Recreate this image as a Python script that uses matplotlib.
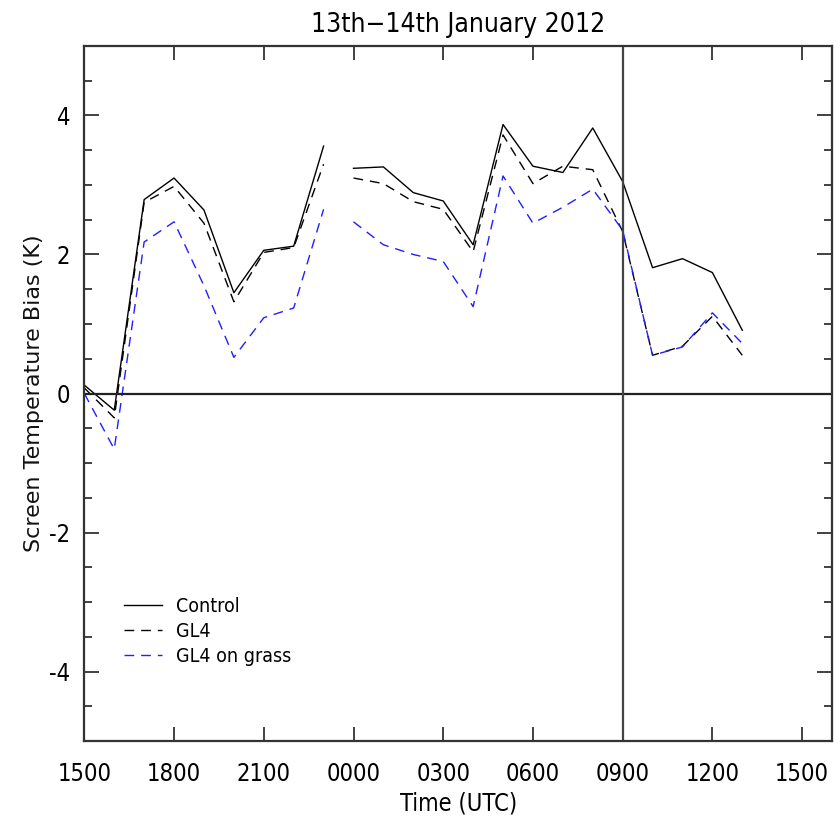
"""Screen temperature bias, 13th-14th January 2012."""
import numpy as np
import matplotlib
matplotlib.use('Agg')
import matplotlib.pyplot as plt
from matplotlib.ticker import MultipleLocator, FuncFormatter

# hours since 1500 UTC on the 13th; the run restarts at 0000 so there is a gap
hours_day1 = [0, 1, 2, 3, 4, 5, 6, 7, 8]
hours_day2 = [9, 10, 11, 12, 13, 14, 15, 16, 17, 18, 19, 20, 21, 22]

control_day1 = [0.12, -0.24, 2.79, 3.10, 2.64, 1.45, 2.06, 2.12, 3.56]
control_day2 = [3.24, 3.26, 2.89, 2.77, 2.14, 3.87, 3.27, 3.18, 3.82, 3.05,
                1.81, 1.94, 1.74, 0.91]

gl4_day1 = [0.08, -0.35, 2.75, 2.98, 2.45, 1.32, 2.03, 2.10, 3.30]
gl4_day2 = [3.10, 3.02, 2.76, 2.65, 2.04, 3.72, 3.02, 3.27, 3.22, 2.33,
            0.55, 0.68, 1.11, 0.55]

grass_day1 = [0.0, -0.80, 2.18, 2.47, 1.55, 0.52, 1.09, 1.23, 2.65]
grass_day2 = [2.47, 2.14, 2.00, 1.90, 1.25, 3.13, 2.45, 2.68, 2.94, 2.35,
              0.55, 0.67, 1.16, 0.72]

tick_hours = [0, 3, 6, 9, 12, 15, 18, 21, 24]
tick_labels = ["1500", "1800", "2100", "0000", "0300", "0600", "0900", "1200", "1500"]
forecast_start = 18  # 0900 UTC

txt = dict(family="DejaVu Sans", stretch="condensed")

fig = plt.figure(figsize=(8.4, 8.21), dpi=100)
ax = fig.add_axes([0.1004, 0.0974, 0.8901, 0.8466])

dash = (7, 5)
for hrs, c, g, b in [(hours_day1, control_day1, gl4_day1, grass_day1),
                     (hours_day2, control_day2, gl4_day2, grass_day2)]:
    ax.plot(hrs, c, color='black', lw=1.0)
    ax.plot(hrs, g, color='black', lw=1.0, dashes=dash)
    ax.plot(hrs, b, color='#1f1fff', lw=1.0, dashes=dash)

ax.axhline(0, color='#222222', lw=1.6)
ax.axvline(forecast_start, color='#444444', lw=1.6)

ax.set_xlim(0, 25)
ax.set_ylim(-5, 5)
ax.set_xticks(tick_hours)
ax.set_xticklabels(tick_labels, fontsize=17, **txt)
ax.yaxis.set_major_locator(MultipleLocator(2))
ax.yaxis.set_minor_locator(MultipleLocator(0.5))
ax.yaxis.set_major_formatter(FuncFormatter(lambda v, _: f"{v:g}"))
for lab in ax.get_yticklabels():
    lab.set_fontfamily(txt["family"])
    lab.set_fontstretch(txt["stretch"])
    lab.set_fontsize(17)

ax.tick_params(axis='x', which='major', direction='in', length=10, width=1.3,
               top=True, pad=15, color='#333333')
ax.tick_params(axis='y', which='major', direction='in', length=11, width=1.3,
               right=True, pad=10, color='#333333')
ax.tick_params(axis='y', which='minor', direction='in', length=6, width=1.3,
               right=True, color='#333333')
for sp in ax.spines.values():
    sp.set_linewidth(1.6)
    sp.set_color('#333333')

ax.set_title("13th\u221214th January 2012", fontsize=19, pad=10, **txt)
ax.set_xlabel("Time (UTC)", fontsize=17, labelpad=4, **txt)
ax.set_ylabel("Screen Temperature Bias (K)", fontsize=16,
              family="DejaVu Sans", color='#111111')
ax.yaxis.set_label_coords(-0.054, 0.5)

handles = [
    plt.Line2D([], [], color='black', lw=1.0),
    plt.Line2D([], [], color='black', lw=1.0, dashes=dash),
    plt.Line2D([], [], color='#1f1fff', lw=1.0, dashes=dash),
]
ax.legend(handles, ["Control", "GL4", "GL4 on grass"], loc='upper left',
          bbox_to_anchor=(0.03, 0.232), frameon=False, handlelength=1.95,
          handletextpad=0.72, labelspacing=0.3,
          prop={'family': 'DejaVu Sans', 'stretch': 'condensed', 'size': 14})

fig.savefig("out.png", dpi=100)
